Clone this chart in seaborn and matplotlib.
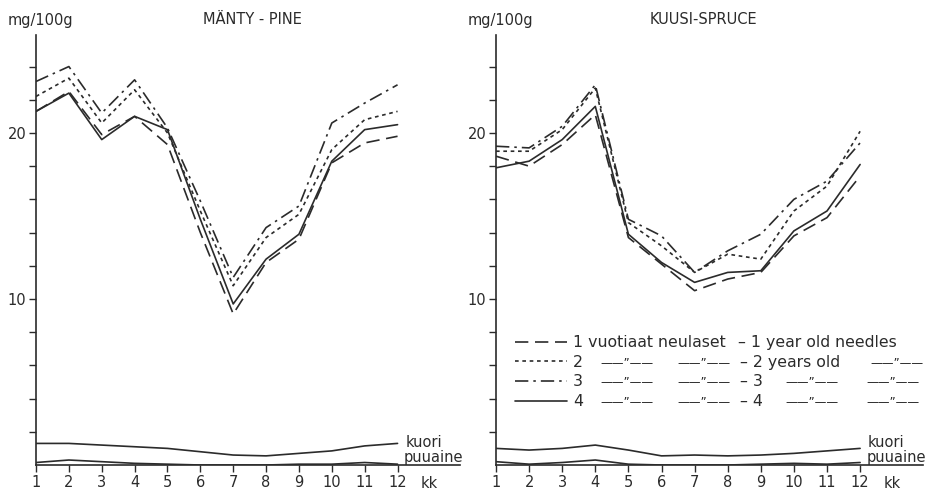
import matplotlib
matplotlib.use("Agg")
import matplotlib.pyplot as plt
import matplotlib.transforms as mtransforms
import pandas as pd
import seaborn as sns

months = list(range(1, 13))
tick_labels = [str(m) for m in months]

pine_1 = [21.3, 22.5, 19.9, 21.0, 19.3, 14.0, 9.1, 12.2, 13.6, 18.2, 19.4, 19.8]
pine_2 = [22.2, 23.3, 20.6, 22.6, 20.0, 15.3, 10.8, 13.7, 15.1, 19.0, 20.8, 21.3]
pine_3 = [23.1, 24.0, 21.2, 23.2, 20.3, 15.9, 11.3, 14.3, 15.6, 20.6, 21.8, 22.9]
pine_4 = [21.3, 22.4, 19.6, 21.0, 20.2, 14.8, 9.7, 12.4, 13.9, 18.3, 20.2, 20.5]
pine_kuori = [1.3, 1.3, 1.2, 1.1, 1.0, 0.8, 0.6, 0.55, 0.7, 0.85, 1.15, 1.3]
pine_puuaine = [0.15, 0.3, 0.2, 0.1, 0.05, 0.0, 0.0, 0.0, 0.05, 0.05, 0.15, 0.05]

spruce_1 = [18.6, 18.0, 19.3, 21.1, 13.7, 12.1, 10.5, 11.2, 11.6, 13.8, 14.9, 17.4]
spruce_2 = [18.9, 18.9, 20.2, 22.7, 14.6, 13.2, 11.6, 12.7, 12.4, 15.3, 16.8, 20.1]
spruce_3 = [19.2, 19.1, 20.4, 22.9, 14.8, 13.8, 11.6, 12.9, 13.9, 16.0, 17.1, 19.4]
spruce_4 = [17.9, 18.3, 19.6, 21.6, 13.9, 12.2, 11.0, 11.6, 11.7, 14.1, 15.3, 18.1]
spruce_kuori = [1.0, 0.9, 1.0, 1.2, 0.9, 0.55, 0.6, 0.55, 0.6, 0.7, 0.85, 1.0]
spruce_puuaine = [0.2, 0.05, 0.15, 0.3, 0.05, 0.0, 0.0, 0.0, 0.05, 0.1, 0.05, 0.15]

sns.set_style("ticks")
plt.rcParams['font.family'] = ['DejaVu Sans']
FS = 10.5
LFS = 11.3
INK = '#2b2b2b'

styles = {
    '1': (0, (8, 4)),
    '2': (0, (2.2, 2.2)),
    '3': (0, (8, 3, 1.5, 3)),
    '4': '-',
}

fig = plt.figure(figsize=(9.28, 4.9), dpi=100)
axL = fig.add_axes([36 / 928, 25 / 490, 424 / 928, 430 / 490])
axR = fig.add_axes([496 / 928, 25 / 490, 427 / 928, 430 / 490])


def draw(ax, series, kuori, puuaine, title, title_x):
    for key, vals in series.items():
        df = pd.DataFrame({'kk': months, 'v': vals})
        sns.lineplot(data=df, x='kk', y='v', ax=ax, color=INK, lw=1.2,
                     linestyle=styles[key], label=key, legend=False)
    for vals in (kuori, puuaine):
        df = pd.DataFrame({'kk': months, 'v': vals})
        sns.lineplot(data=df, x='kk', y='v', ax=ax, color=INK, lw=1.2,
                     legend=False)
    ax.set_xlim(1, 13.9)
    ax.set_ylim(0, 25.9)
    ax.set_xticks(months)
    ax.set_xticklabels(tick_labels, fontsize=FS, color=INK)
    yt = list(range(2, 26, 2))
    ax.set_yticks(yt)
    ax.set_yticklabels([str(t) if t in (10, 20) else '' for t in yt],
                       fontsize=FS, color=INK)
    ax.set_xlabel('')
    ax.set_ylabel('')
    ax.tick_params(direction='out', length=5, width=1, color=INK, pad=2)
    for s in ('top', 'right'):
        ax.spines[s].set_visible(False)
    for s in ('left', 'bottom'):
        ax.spines[s].set_color(INK)
        ax.spines[s].set_linewidth(1.2)
    trans = mtransforms.blended_transform_factory(ax.transData, ax.transAxes)
    ax.text(12.7, -0.026, 'kk', transform=trans, fontsize=FS, color=INK,
            va='top', ha='left')
    ax.text(12.24, 1.1, 'kuori', fontsize=FS, color=INK,
            va='baseline', ha='left')
    ax.text(12.2, 0.2, 'puuaine', fontsize=FS, color=INK,
            va='baseline', ha='left')
    fig.text(title_x, 1 - 20 / 490, title, fontsize=FS, color=INK,
             ha='center', va='center')


draw(axL, {'1': pine_1, '2': pine_2, '3': pine_3, '4': pine_4},
     pine_kuori, pine_puuaine, 'MÄNTY - PINE', 252 / 928)
draw(axR, {'1': spruce_1, '2': spruce_2, '3': spruce_3, '4': spruce_4},
     spruce_kuori, spruce_puuaine, 'KUUSI-SPRUCE', 703 / 928)

fig.text(8 / 928, 1 - 20 / 490, 'mg/100g', fontsize=FS, color=INK,
         ha='left', va='center')
fig.text(468 / 928, 1 - 20 / 490, 'mg/100g', fontsize=FS, color=INK,
         ha='left', va='center')

# legend (right panel)
handles = axR.get_lines()[:4]
labels = ['1 vuotiaat neulaset', '2', '3', '4']
leg = axR.legend(handles, labels, loc='upper left',
                 bbox_to_anchor=(515 / 928, 1 - 335 / 490),
                 bbox_transform=fig.transFigure, frameon=False,
                 fontsize=LFS, handlelength=3.3, handletextpad=0.4,
                 labelspacing=0.3, borderpad=0, borderaxespad=0,
                 labelcolor=INK)
fig.canvas.draw()
renderer = fig.canvas.get_renderer()
inv = fig.transFigure.inverted()
ditto = '——\u201d——'
cols = [
    [(738, '– 1 year old needles', LFS)],
    [(600, ditto, 8.5), (677, ditto, 8.5), (740, '– 2 years old', LFS),
     (870, ditto, 8.5)],
    [(600, ditto, 8.5), (677, ditto, 8.5), (740, '– 3', LFS),
     (785, ditto, 8.5), (866, ditto, 8.5)],
    [(600, ditto, 8.5), (677, ditto, 8.5), (740, '– 4', LFS),
     (785, ditto, 8.5), (866, ditto, 8.5)],
]
for txt, row in zip(leg.get_texts(), cols):
    bb = txt.get_window_extent(renderer)
    ymid = inv.transform([[0, (bb.y0 + bb.y1) / 2]])[0][1]
    for px, s, fs in row:
        fig.text(px / 928, ymid, s, fontsize=fs, color=INK,
                 ha='left', va='center')

fig.savefig('out.png', dpi=100, facecolor='white')
